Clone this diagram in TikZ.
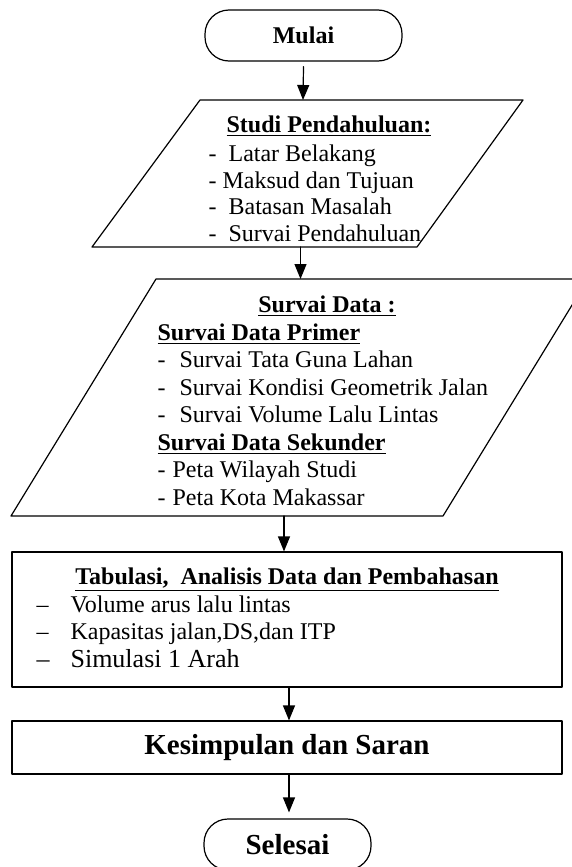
\documentclass[tikz,border=0pt]{standalone}
\usepackage{fontspec}
\setmainfont{Liberation Serif}
\usetikzlibrary{arrows.meta}

\begin{document}
\begin{tikzpicture}[
				x=0.5pt,
				y=-0.5pt,
				line cap=round,
				line join=round,
				line width=0.6pt,
				terminal/.style={draw,rounded corners=12pt,minimum height=25.5pt,inner sep=0pt,font=\fontsize{12}{14}\selectfont\bfseries},
				process/.style={draw,minimum width=275pt,inner sep=0pt},
				item/.style={inner sep=0pt,anchor=base west,font=\fontsize{12}{14}\selectfont},
				title/.style={inner sep=0pt,anchor=base,font=\fontsize{12}{14}\selectfont\bfseries},
				flow/.style={-{Triangle[length=7.5pt,width=6pt]}}
				]
				\useasboundingbox (0,0) rectangle (572,867);
				
				% Start
				\node[terminal,minimum width=98.5pt] (T1) at (303.5,35.5) {Mulai};
				
				% Step 1
				\coordinate (P1a) at (200,100);
				\coordinate (P1b) at (523,100);
				\coordinate (P1c) at (417,247);
				\coordinate (P1d) at (92,247);
				\draw (P1a) -- (P1b) -- (P1c) -- (P1d) -- cycle;
				\node[title] (H1) at (329,132) {\underline{Studi Pendahuluan:}};
				\node[item] (L1) at (208,161) {\makebox[10pt][l]{-}Latar Belakang};
				\node[item] (L2) at (208,188) {\makebox[7pt][l]{-}Maksud dan Tujuan};
				\node[item] (L3) at (208,214) {\makebox[10pt][l]{-}Batasan Masalah};
				\node[item] (L4) at (208,241) {\makebox[10pt][l]{-}Survai Pendahuluan};
				
				% Step 2
				\coordinate (P2a) at (156,279);
				\coordinate (P2b) at (588,279);
				\coordinate (P2c) at (443,516);
				\coordinate (P2d) at (11,516);
				\draw (P2a) -- (P2b) -- (P2c) -- (P2d) -- cycle;
				\node[title] (H2) at (327,312) {\underline{Survai Data :}};
				\node[title,anchor=base west] (H3) at (157,340) {\underline{Survai Data Primer}};
				\node[item] (L5) at (157,367) {\makebox[11pt][l]{-}Survai Tata Guna Lahan};
				\node[item] (L6) at (157,395) {\makebox[11pt][l]{-}Survai Kondisi Geometrik Jalan};
				\node[item] (L7) at (157,422) {\makebox[11pt][l]{-}Survai Volume Lalu Lintas};
				\node[title,anchor=base west] (H4) at (157,450) {\underline{Survai Data Sekunder}};
				\node[item] (L8) at (157,477) {\makebox[7.5pt][l]{-}Peta Wilayah Studi};
				\node[item] (L9) at (157,505) {\makebox[7.5pt][l]{-}Peta Kota Makassar};
				
				% Step 3
				\node[process,minimum height=67.5pt] (K1) at (287,619.5) {};
				\node[title] (H5) at (287,584) {\underline{Tabulasi,\ \ Analisis Data dan Pembahasan}};
				\node[item] (L10) at (36,612) {\makebox[17pt][l]{--}Volume arus lalu lintas};
				\node[item] (L11) at (36,639) {\makebox[17pt][l]{--}Kapasitas jalan,DS,dan ITP};
				\node[item,font=\fontsize{13}{15}\selectfont] (L12) at (36,667) {\makebox[17pt][l]{--}Simulasi 1 Arah};
				
				% Step 4
				\node[process,minimum height=26.5pt,font=\fontsize{14.5}{17}\selectfont\bfseries] (K2) at (287,747.5) {Kesimpulan dan Saran};
				
				% End
				\node[terminal,minimum width=83.5pt,font=\fontsize{14.5}{17}\selectfont\bfseries] (T2) at (287.5,844.5) {Selesai};
				
				% Arrows
				\coordinate (A1) at (303,100);
				\coordinate (A2) at (300.5,247);
				\coordinate (A3) at (300.5,279);
				\coordinate (A4) at (284,516);
				\draw[flow] ([yshift=-2.5pt]T1.south) -- (A1);
				\draw[flow] (A2) -- (A3);
				\draw[flow] (A4) -- (A4 |- K1.north);
				\draw[flow] ([xshift=1pt]K1.south) -- ([xshift=1pt]K2.north);
				\draw[flow] ([xshift=1pt]K2.south) -- ([xshift=0.75pt,yshift=3pt]T2.north);
			\end{tikzpicture}
\end{document}
